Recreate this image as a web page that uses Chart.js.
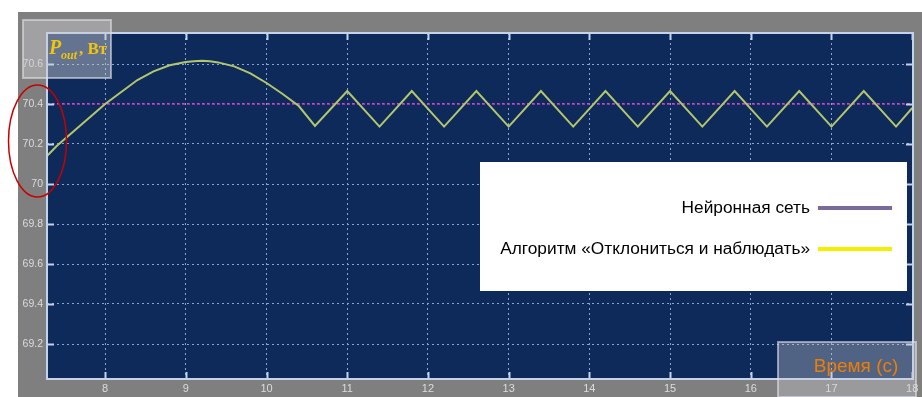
<!DOCTYPE html>
<html>
<head>
<meta charset="utf-8">
<script src="https://cdn.jsdelivr.net/npm/chart.js@4.4.1/dist/chart.umd.min.js"></script>
<style>
  html, body { margin: 0; padding: 0; background: #ffffff; }
  #wrap { width: 922px; height: 397px; position: relative; }
</style>
</head>
<body>
<div id="wrap"><canvas id="pout"></canvas></div>
<script>
// time (s) and output power (W)
var poTime  = [7.28, 7.4, 7.6, 7.8, 8.0, 8.2, 8.4, 8.6, 8.8, 9.0, 9.1, 9.2, 9.3, 9.4, 9.6, 9.8, 10.0, 10.2, 10.4, 10.6,
               11.0, 11.4, 11.8, 12.2, 12.6, 13.0, 13.4, 13.8, 14.2, 14.6, 15.0, 15.4, 15.8, 16.2, 16.6, 17.0, 17.4, 17.8, 18.0];
var poPower = [70.14, 70.19, 70.26, 70.33, 70.40, 70.46, 70.52, 70.563, 70.594, 70.61, 70.614, 70.616, 70.614, 70.608, 70.588, 70.553, 70.505, 70.45, 70.39, 70.29,
               70.465, 70.287, 70.465, 70.287, 70.465, 70.287, 70.465, 70.287, 70.465, 70.287, 70.465, 70.287, 70.465, 70.287, 70.465, 70.287, 70.465, 70.287, 70.38];
var nnTime  = [7.28, 18.01];
var nnPower = [70.4, 70.4];

var xTicks = [8, 9, 10, 11, 12, 13, 14, 15, 16, 17, 18];
var yTicks = [69.2, 69.4, 69.6, 69.8, 70, 70.2, 70.4, 70.6];

var seriesNames = ['Алгоритм «Отклониться и наблюдать»', 'Нейронная сеть'];
var yTitle = ', Вт';
var xTitle = 'Время (с)';

(function(){
  var navy = '#0d2a5a';
  var gray = '#7f7f7f';
  var frameColor = '#c4d2ea';
  var tickLabelColor = '#dcdcdc';

  function pairs(xs, ys){
    return xs.map(function(x, i){ return {x: x, y: ys[i]}; });
  }

  var bgPlugin = {
    id: 'bg',
    beforeDraw: function(chart){
      var ctx = chart.ctx, a = chart.chartArea;
      ctx.save();
      ctx.fillStyle = '#ffffff';
      ctx.fillRect(0, 0, chart.width, chart.height);
      ctx.fillStyle = gray;
      ctx.fillRect(18, 12, chart.width - 18, chart.height - 12);
      ctx.fillStyle = navy;
      ctx.fillRect(a.left, a.top, a.right - a.left, a.bottom - a.top);
      ctx.restore();
    }
  };

  // frame, inward ticks, legend box and overlay labels
  var decoPlugin = {
    id: 'deco',
    afterDraw: function(chart){
      var ctx = chart.ctx, a = chart.chartArea;
      var xs = chart.scales.x, ys = chart.scales.y;
      ctx.save();
      ctx.strokeStyle = frameColor;
      ctx.lineWidth = 2;
      ctx.strokeRect(a.left, a.top, a.right - a.left, a.bottom - a.top);
      ctx.lineWidth = 2;
      xs.ticks.forEach(function(t){
        var px = Math.round(xs.getPixelForValue(t.value)) + 0.5;
        ctx.beginPath();
        ctx.moveTo(px, a.bottom); ctx.lineTo(px, a.bottom - 7);
        ctx.moveTo(px, a.top); ctx.lineTo(px, a.top + 7);
        ctx.stroke();
      });
      ys.ticks.forEach(function(t){
        var py = Math.round(ys.getPixelForValue(t.value)) + 0.5;
        ctx.beginPath();
        ctx.moveTo(a.left, py); ctx.lineTo(a.left + 7, py);
        ctx.moveTo(a.right, py); ctx.lineTo(a.right - 7, py);
        ctx.stroke();
      });

      // legend
      ctx.fillStyle = '#ffffff';
      ctx.fillRect(480, 162, 427, 129);
      ctx.font = '17.3px "Liberation Sans", Arial, sans-serif';
      ctx.textAlign = 'right';
      ctx.textBaseline = 'middle';
      var rows = [{ds: 1, y: 208}, {ds: 0, y: 249}];
      rows.forEach(function(r){
        var ds = chart.data.datasets[r.ds];
        ctx.fillStyle = '#000000';
        ctx.fillText(ds.label, 810, r.y);
        ctx.strokeStyle = ds.legendColor;
        ctx.lineWidth = 4;
        ctx.beginPath();
        ctx.moveTo(818, r.y); ctx.lineTo(892, r.y);
        ctx.stroke();
      });

      // y title box
      ctx.fillStyle = 'rgba(205,205,210,0.45)';
      ctx.fillRect(23, 20, 88, 58);
      ctx.strokeStyle = 'rgba(225,225,230,0.6)';
      ctx.lineWidth = 2;
      ctx.strokeRect(23, 20, 88, 58);
      ctx.textAlign = 'left';
      ctx.textBaseline = 'alphabetic';
      ctx.fillStyle = '#f2c40c';
      ctx.font = 'italic bold 20px "Liberation Serif", serif';
      ctx.fillText('P', 49, 54);
      ctx.font = 'italic bold 12px "Liberation Serif", serif';
      ctx.fillText('out', 61, 59);
      ctx.font = 'bold 17px "Liberation Serif", serif';
      ctx.fillText(yTitle, 79, 54);

      // x title box
      ctx.fillStyle = 'rgba(205,205,215,0.35)';
      ctx.fillRect(778, 342, 138, 55);
      ctx.strokeStyle = 'rgba(225,225,235,0.6)';
      ctx.strokeRect(778, 342, 138, 55);
      ctx.fillStyle = '#f07d00';
      ctx.font = '19px "Liberation Sans", Arial, sans-serif';
      ctx.textAlign = 'center';
      ctx.fillText(xTitle, 856, 372);

      // red highlight ellipse
      ctx.strokeStyle = '#c80000';
      ctx.lineWidth = 1.5;
      ctx.beginPath();
      ctx.ellipse(37.5, 141, 29, 56, 0, 0, Math.PI * 2);
      ctx.stroke();
      ctx.restore();
    }
  };

  new Chart(document.getElementById('pout').getContext('2d'), {
    type: 'line',
    data: {
      datasets: [
        {
          label: seriesNames[0],
          data: pairs(poTime, poPower),
          borderColor: '#b4c66c',
          legendColor: '#f2ef00',
          borderWidth: 2,
          pointRadius: 0,
          tension: 0,
          fill: false
        },
        {
          label: seriesNames[1],
          data: pairs(nnTime, nnPower),
          borderColor: '#c43cc4',
          legendColor: '#7a6a9c',
          borderWidth: 1.5,
          borderDash: [3, 2],
          pointRadius: 0,
          tension: 0,
          fill: false
        }
      ]
    },
    options: {
      responsive: true,
      maintainAspectRatio: false,
      animation: false,
      layout: { padding: { left: 18, top: 33, right: 9, bottom: 0 } },
      scales: {
        x: {
          type: 'linear',
          min: 7.28,
          max: 18.01,
          afterBuildTicks: function(s){ s.ticks = xTicks.map(function(v){ return {value: v}; }); },
          afterFit: function(s){ s.height = 18; },
          grid: { color: '#8aa4cc', lineWidth: 1, drawTicks: false },
          border: { display: false, dash: [2, 3] },
          ticks: {
            color: tickLabelColor,
            padding: 3,
            maxRotation: 0,
            autoSkip: false,
            font: { family: '"Liberation Sans", Arial, sans-serif', size: 11 },
            callback: function(v){ return String(v); }
          }
        },
        y: {
          min: 69.025,
          max: 70.755,
          afterBuildTicks: function(s){ s.ticks = yTicks.map(function(v){ return {value: v}; }); },
          afterFit: function(s){ s.width = 29; },
          grid: { color: '#8aa4cc', lineWidth: 1, drawTicks: false },
          border: { display: false, dash: [2, 3] },
          ticks: {
            color: tickLabelColor,
            padding: 4,
            autoSkip: false,
            font: { family: '"Liberation Sans", Arial, sans-serif', size: 10.5 },
            callback: function(v){ return String(Number(v.toFixed(1))); }
          }
        }
      },
      plugins: {
        legend: { display: false },
        tooltip: { enabled: false }
      }
    },
    plugins: [bgPlugin, decoPlugin]
  });
})();
</script>
</body>
</html>
